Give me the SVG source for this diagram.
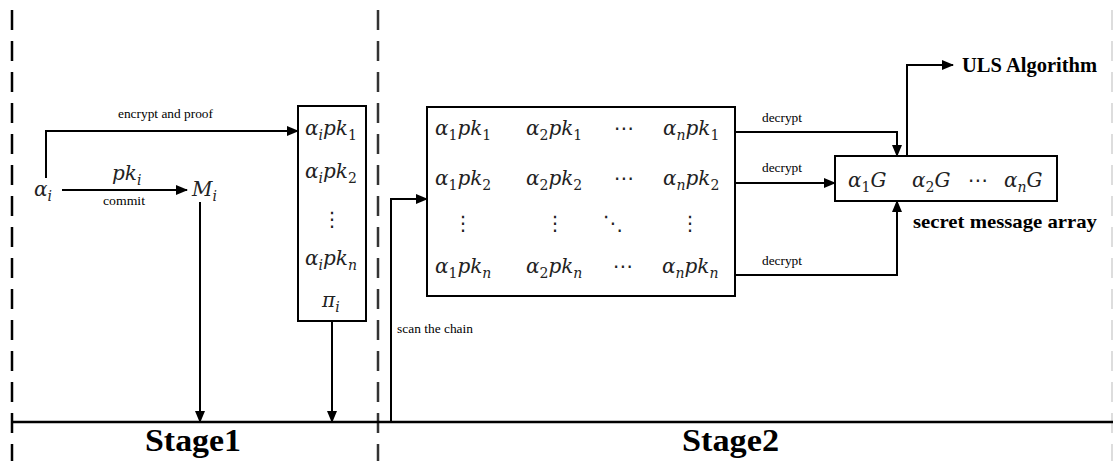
<svg xmlns="http://www.w3.org/2000/svg" width="1113" height="461" viewBox="0 0 1113 461">
<style>
.bg{fill:#fff}
.box{fill:#fff;stroke:#000;stroke-width:2}
.ln{fill:none;stroke:#000;stroke-width:2}
.dash{fill:none;stroke-width:2.5;stroke-dasharray:20 11}
.m{font-family:"DejaVu Serif",serif;font-style:italic;font-size:20px;fill:#222}
.s{font-size:14px}
.u{font-style:normal}
.d{font-family:"DejaVu Sans",sans-serif;font-size:20px;fill:#222}
.lbl{font-family:"Liberation Serif",serif;font-size:13px;fill:#000}
.b{font-family:"Liberation Serif",serif;font-weight:bold;fill:#000}
</style>
<defs>
<marker id="ah" markerUnits="userSpaceOnUse" markerWidth="12" markerHeight="10" refX="11" refY="5" orient="auto">
<path d="M0,0 L12,5 L0,10 Z" fill="#000"/>
</marker>
</defs>
<rect class="bg" width="1113" height="461"/>
<g id="dividers">
<line class="dash" x1="12" y1="10" x2="12" y2="461" stroke="#000"/>
<line class="dash" x1="378" y1="10" x2="378" y2="461" stroke="#333"/>
<line class="dash" x1="1112" y1="10" x2="1112" y2="461" stroke="#ddd" style="stroke-width:2"/>
<line x1="12" y1="422" x2="1113" y2="422" stroke="#000" stroke-width="2.5"/>
</g>
<g id="connectors">
<path class="ln" d="M46,178 V131 H298" marker-end="url(#ah)"/>
<path class="ln" d="M62,190 H187" marker-end="url(#ah)"/>
<path class="ln" d="M200,202 V422" marker-end="url(#ah)"/>
<path class="ln" d="M332,321 V422" marker-end="url(#ah)"/>
<path class="ln" d="M391,422 V199 H427" marker-end="url(#ah)"/>
<path class="ln" d="M730,132 H897 V156" marker-end="url(#ah)"/>
<path class="ln" d="M730,183 H835" marker-end="url(#ah)"/>
<path class="ln" d="M730,275 H897 V201" marker-end="url(#ah)"/>
<path class="ln" d="M907,156 V65 H953" marker-end="url(#ah)"/>
<text class="lbl" x="118" y="118" textLength="95" lengthAdjust="spacingAndGlyphs">encrypt and proof</text>
<text class="lbl" x="103" y="205" textLength="42" lengthAdjust="spacingAndGlyphs">commit</text>
<text class="m" x="112" y="180">pk<tspan class="s" dy="5">i</tspan></text>
<text class="lbl" x="397" y="333" textLength="76" lengthAdjust="spacingAndGlyphs">scan the chain</text>
<text class="lbl" x="762" y="122" textLength="40" lengthAdjust="spacingAndGlyphs">decrypt</text>
<text class="lbl" x="762" y="172" textLength="40" lengthAdjust="spacingAndGlyphs">decrypt</text>
<text class="lbl" x="762" y="265" textLength="40" lengthAdjust="spacingAndGlyphs">decrypt</text>
</g>
<g id="alpha">
<text class="m" x="34" y="196">α<tspan class="s" dy="5">i</tspan></text>
</g>
<g id="M">
<text class="m" x="192" y="196">M<tspan class="s" dy="5">i</tspan></text>
</g>
<g id="box1">
<rect class="box" x="298" y="106" width="68" height="215"/>
<text class="m" x="305" y="135">α<tspan class="s" dy="5">i</tspan><tspan dy="-5">pk</tspan><tspan class="s u" dy="5">1</tspan></text>
<text class="m" x="305" y="178">α<tspan class="s" dy="5">i</tspan><tspan dy="-5">pk</tspan><tspan class="s u" dy="5">2</tspan></text>
<text class="d" x="332" y="226" text-anchor="middle">⋮</text>
<text class="m" x="305" y="265">α<tspan class="s" dy="5">i</tspan><tspan dy="-5">pk</tspan><tspan class="s" dy="5">n</tspan></text>
<text class="m" x="322" y="307">π<tspan class="s" dy="5">i</tspan></text>
</g>
<g id="box2">
<rect class="box" x="427" y="107" width="308" height="189"/>
<text class="m" x="435" y="135">α<tspan class="s u" dy="5">1</tspan><tspan dy="-5">pk</tspan><tspan class="s u" dy="5">1</tspan></text>
<text class="m" x="526" y="135">α<tspan class="s u" dy="5">2</tspan><tspan dy="-5">pk</tspan><tspan class="s u" dy="5">1</tspan></text>
<text class="d" x="624" y="135" text-anchor="middle">⋯</text>
<text class="m" x="663" y="135">α<tspan class="s" dy="5">n</tspan><tspan dy="-5">pk</tspan><tspan class="s u" dy="5">1</tspan></text>
<text class="m" x="435" y="185">α<tspan class="s u" dy="5">1</tspan><tspan dy="-5">pk</tspan><tspan class="s u" dy="5">2</tspan></text>
<text class="m" x="526" y="185">α<tspan class="s u" dy="5">2</tspan><tspan dy="-5">pk</tspan><tspan class="s u" dy="5">2</tspan></text>
<text class="d" x="624" y="185" text-anchor="middle">⋯</text>
<text class="m" x="663" y="185">α<tspan class="s" dy="5">n</tspan><tspan dy="-5">pk</tspan><tspan class="s u" dy="5">2</tspan></text>
<text class="d" x="463" y="230" text-anchor="middle">⋮</text>
<text class="d" x="555" y="230" text-anchor="middle">⋮</text>
<text class="d" x="613" y="230" text-anchor="middle">⋱</text>
<text class="d" x="690" y="230" text-anchor="middle">⋮</text>
<text class="m" x="435" y="273">α<tspan class="s u" dy="5">1</tspan><tspan dy="-5">pk</tspan><tspan class="s" dy="5">n</tspan></text>
<text class="m" x="526" y="273">α<tspan class="s u" dy="5">2</tspan><tspan dy="-5">pk</tspan><tspan class="s" dy="5">n</tspan></text>
<text class="d" x="623" y="273" text-anchor="middle">⋯</text>
<text class="m" x="662" y="273">α<tspan class="s" dy="5">n</tspan><tspan dy="-5">pk</tspan><tspan class="s" dy="5">n</tspan></text>
</g>
<g id="box3">
<rect class="box" x="835" y="156" width="222" height="45"/>
<text class="m" x="848" y="187">α<tspan class="s u" dy="5">1</tspan><tspan dy="-5">G</tspan></text>
<text class="m" x="912" y="187">α<tspan class="s u" dy="5">2</tspan><tspan dy="-5">G</tspan></text>
<text class="d" x="978" y="187" text-anchor="middle">⋯</text>
<text class="m" x="1004" y="187">α<tspan class="s" dy="5">n</tspan><tspan dy="-5">G</tspan></text>
<text class="b" x="913" y="228" font-size="19" textLength="184" lengthAdjust="spacingAndGlyphs">secret message array</text>
</g>
<g id="uls">
<text class="b" x="962" y="72" font-size="20" textLength="135" lengthAdjust="spacingAndGlyphs">ULS Algorithm</text>
</g>
<g id="stages">
<text class="b" x="145" y="451" font-size="32" textLength="96" lengthAdjust="spacingAndGlyphs">Stage1</text>
<text class="b" x="682" y="451" font-size="32" textLength="97" lengthAdjust="spacingAndGlyphs">Stage2</text>
</g>
</svg>
